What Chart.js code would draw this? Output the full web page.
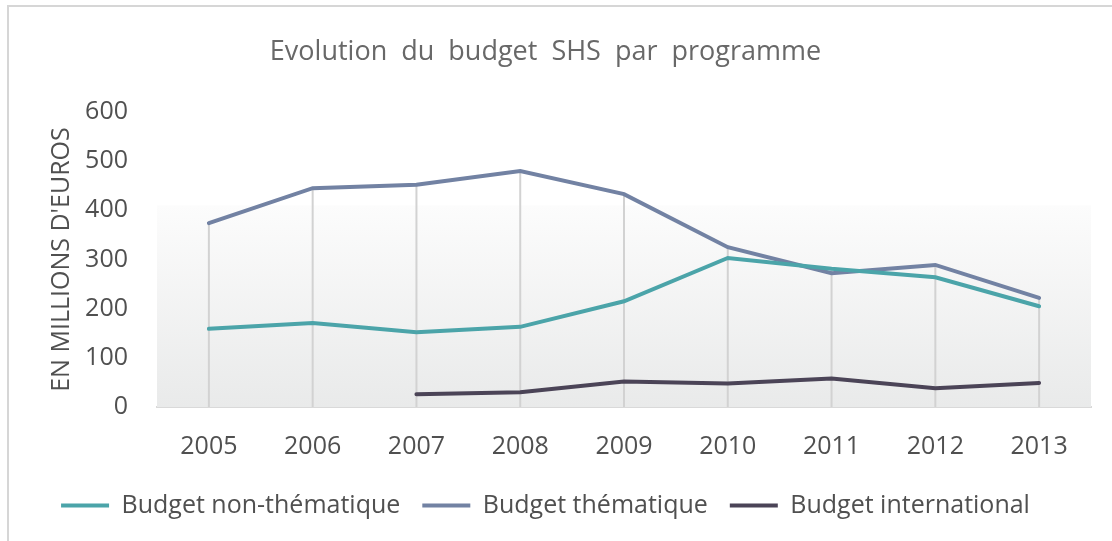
<!DOCTYPE html>
<html lang="fr">
<head>
    <meta charset="UTF-8">
    <title>Evolution du budget SHS par programme</title>
    <script src="https://cdn.jsdelivr.net/npm/chart.js"></script>
    <style>
        html, body { margin: 0; padding: 0; background: #fff; }
        .frame {
            position: absolute; left: 7px; top: 5px; width: 1120px; height: 560px;
            border-top: 2px solid #d6d6d6; border-left: 2px solid #d6d6d6;
        }
        .wrap { position: absolute; left: 0; top: 0; width: 1112px; height: 541px; }
    </style>
</head>
<body>
    <div class="frame"></div>
    <div class="wrap"><canvas id="budgetChart" width="1112" height="541"></canvas></div>

    <script>
        // Data
        const years = ['2005', '2006', '2007', '2008', '2009', '2010', '2011', '2012', '2013'];
        const nonThematique = [159, 171, 152, 163, 215, 303, 281, 264, 205];
        const thematique = [374, 445, 452, 480, 433, 325, 272, 289, 222];
        const international = [null, null, 26, 30, 52, 48, 58, 38, 49];
        const yTicks = [0, 100, 200, 300, 400, 500, 600];

        const FONT = "'Open Sans', 'DejaVu Sans', sans-serif";
        const TEXT = '#505050';

        // Soft grey gradient behind the lower part of the plot + drop lines
        const backdrop = {
            id: 'backdrop',
            beforeDatasetsDraw(chart) {
                const { ctx, chartArea, scales } = chart;
                const top = scales.y.getPixelForValue(410);
                const bottom = scales.y.getPixelForValue(0);
                const g = ctx.createLinearGradient(0, top, 0, bottom);
                g.addColorStop(0, 'rgba(252,252,252,1)');
                g.addColorStop(1, 'rgba(233,234,234,1)');
                ctx.save();
                ctx.fillStyle = g;
                ctx.fillRect(chartArea.left, top, chartArea.right - chartArea.left, bottom - top);

                // vertical drop lines from the highest point of each year
                ctx.strokeStyle = '#d2d2d2';
                ctx.lineWidth = 2;
                years.forEach((y, i) => {
                    const vals = chart.data.datasets.map(d => d.data[i]).filter(v => v !== null);
                    if (!vals.length) return;
                    const x = scales.x.getPixelForValue(i);
                    ctx.beginPath();
                    ctx.moveTo(x, scales.y.getPixelForValue(Math.max(...vals)));
                    ctx.lineTo(x, bottom);
                    ctx.stroke();
                });
                ctx.restore();
            }
        };

        const lineStyle = (label, data, color) => ({
            label: label,
            data: data,
            borderColor: color,
            backgroundColor: color,
            borderWidth: 4,
            borderCapStyle: 'round',
            pointRadius: 0,
            tension: 0,
            spanGaps: false
        });

        new Chart(document.getElementById('budgetChart'), {
            type: 'line',
            data: {
                labels: years,
                datasets: [
                    lineStyle('Budget non-thématique', nonThematique, '#4ba4a9'),
                    lineStyle('Budget thématique', thematique, '#7282a3'),
                    lineStyle('Budget international', international, '#4b4457')
                ]
            },
            options: {
                responsive: false,
                animation: false,
                layout: { padding: { left: 0, right: 21, top: 0, bottom: 13 } },
                plugins: {
                    title: {
                        display: true,
                        text: 'Evolution  du  budget  SHS  par  programme',
                        color: '#686868',
                        font: { family: FONT, size: 27, weight: 'normal' },
                        padding: { top: 36, bottom: 43.6 }
                    },
                    legend: {
                        position: 'bottom',
                        labels: {
                            usePointStyle: true,
                            pointStyle: 'line',
                            pointStyleWidth: 48,
                            color: TEXT,
                            font: { family: FONT, size: 25 },
                            padding: 22
                        }
                    },
                    tooltip: { enabled: false }
                },
                scales: {
                    x: {
                        offset: true,
                        afterFit: (scale) => { scale.height = 64; },
                        grid: { display: false, drawTicks: false },
                        border: { display: true, color: '#d9d9d9', width: 2 },
                        ticks: {
                            color: TEXT,
                            padding: 25,
                            font: { family: FONT, size: 25 }
                        }
                    },
                    y: {
                        min: 0,
                        max: 600,
                        afterBuildTicks: (scale) => { scale.ticks = yTicks.map(v => ({ value: v })); },
                        afterFit: (scale) => { scale.width = 157; },
                        grid: { display: false, drawTicks: false },
                        border: { display: false },
                        ticks: {
                            color: TEXT,
                            padding: 29,
                            font: { family: FONT, size: 25 }
                        },
                        title: {
                            display: true,
                            text: "EN MILLIONS D'EUROS",
                            color: TEXT,
                            font: { family: FONT, size: 25 },
                            padding: { top: 47, bottom: 0 }
                        }
                    }
                }
            },
            plugins: [backdrop]
        });
    </script>
</body>
</html>
